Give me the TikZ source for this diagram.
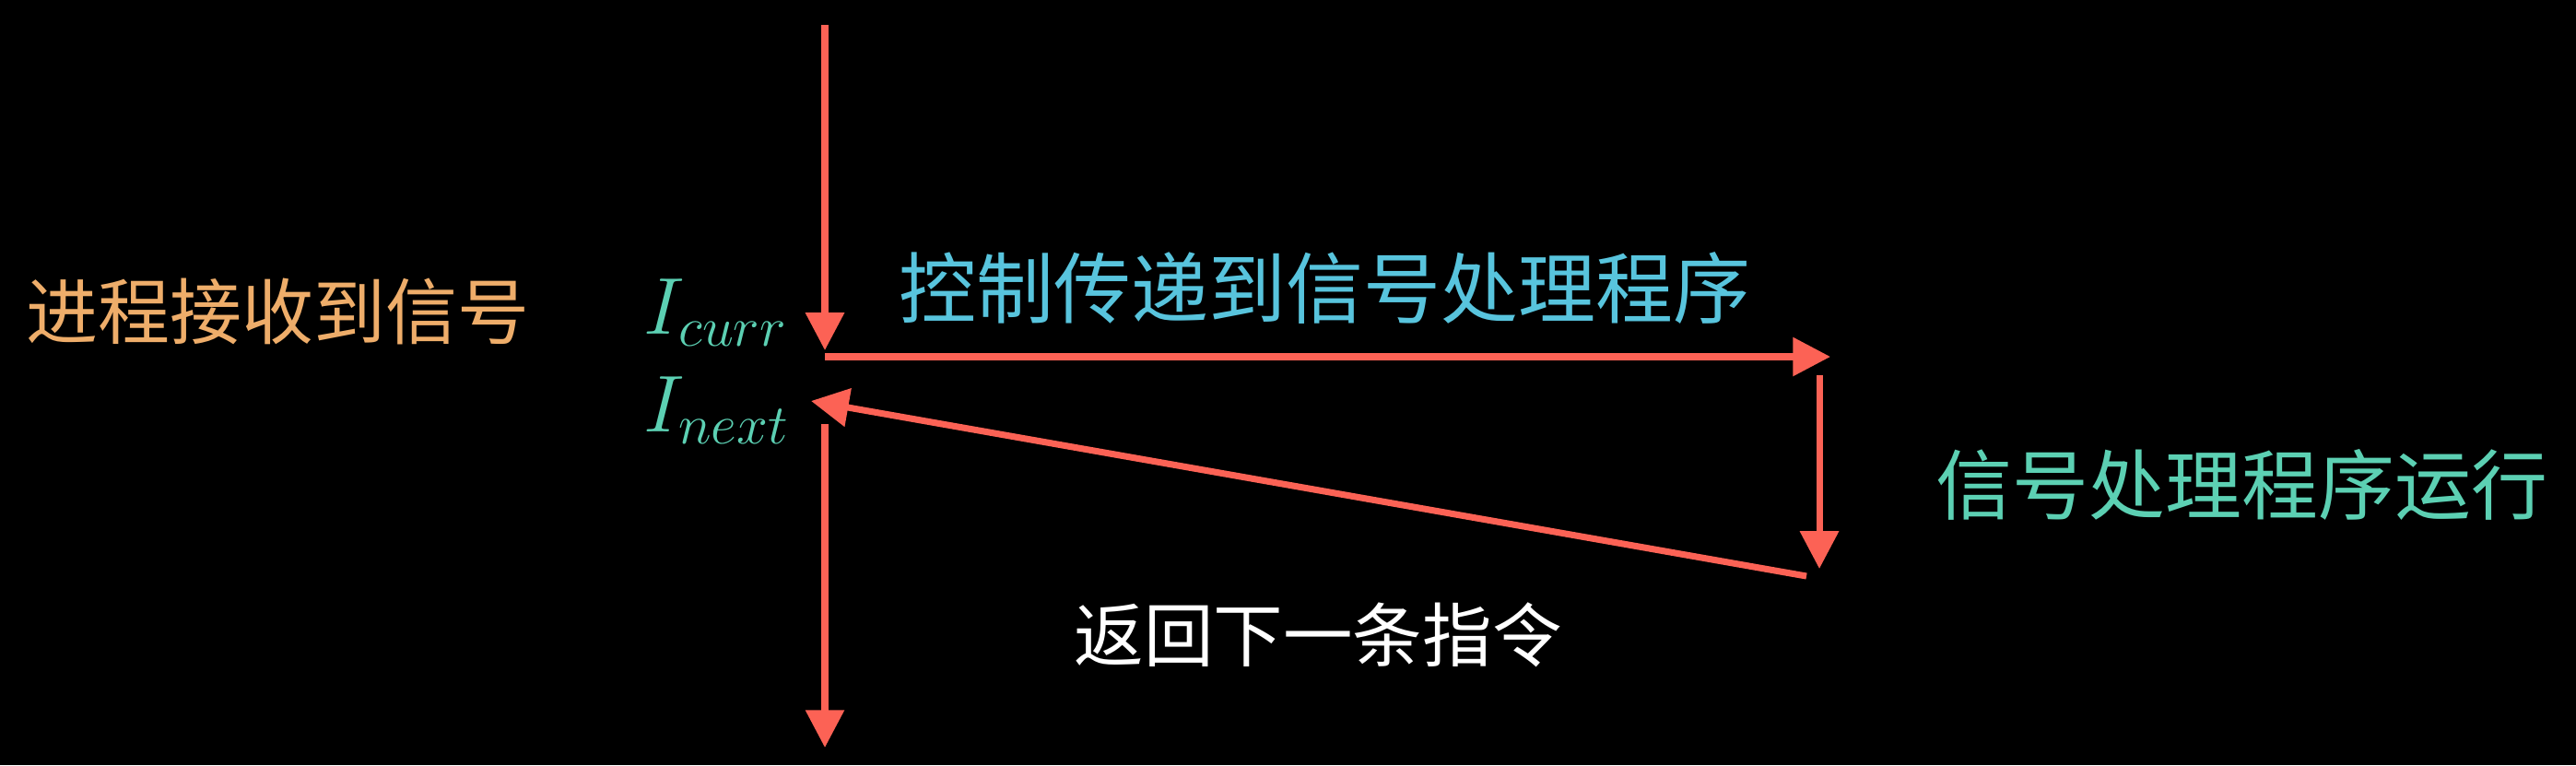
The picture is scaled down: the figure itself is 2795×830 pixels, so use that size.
\documentclass[tikz,border=0pt]{standalone}
\usepackage{fontspec}
\newfontfamily\cjk{Noto Sans CJK SC}
\usetikzlibrary{arrows.meta}
\definecolor{arrowred}{HTML}{FC6255}
\definecolor{goldtxt}{HTML}{EEAD6A}
\definecolor{bluetxt}{HTML}{58C4DD}
\definecolor{tealtxt}{HTML}{5CD0B3}
\tikzset{
  flow/.style={draw=arrowred, line width=2pt, -{Triangle[length=11.6pt,width=11.6pt]}},
  cjklabel/.style={inner sep=0pt, anchor=west, font=\cjk},
  mathlabel/.style={inner sep=0pt, anchor=base west, text=tealtxt, font=\fontsize{25pt}{29pt}\selectfont}
}
\begin{document}
\begin{tikzpicture}[x=0.1mm,y=-0.1mm]
\fill[black] (0,0) rectangle (2795,830);
\useasboundingbox (0,0) rectangle (2795,830);

% coordinates of connector ends
\coordinate (ts) at (895,27);
\coordinate (cur) at (895,380);
\coordinate (hs) at (895,387);
\coordinate (he) at (1986,387);
\coordinate (rs) at (1974,407);
\coordinate (re) at (1974,617);
\coordinate (ds) at (1960,625);
\coordinate (de) at (880,435);
\coordinate (bs) at (895,460);
\coordinate (be) at (895,811);

% labels
\node[cjklabel, text=goldtxt, font=\cjk\fontsize{22.2pt}{26pt}\selectfont] (recv) at (28,338) {进程接收到信号};
\node[cjklabel, text=bluetxt, font=\cjk\fontsize{23.9pt}{28pt}\selectfont] (ctrl) at (975,312) {控制传递到信号处理程序};
\node[cjklabel, text=tealtxt, font=\cjk\fontsize{23.6pt}{28pt}\selectfont] (run) at (2100,526) {信号处理程序运行};
\node[cjklabel, text=white, font=\cjk\fontsize{21.5pt}{26pt}\selectfont] (ret) at (1165,689) {返回下一条指令};
\node[mathlabel] (icurr) at (698,362) {$I_{curr}$};
\node[mathlabel] (inext) at (698,468) {$I_{next}$};

% connectors
\draw[flow] (ts) -- (cur);
\draw[flow] (hs) -- (he);
\draw[flow] (rs) -- (re);
\draw[flow] (ds) -- (de);
\draw[flow] (bs) -- (be);
\end{tikzpicture}
\end{document}
